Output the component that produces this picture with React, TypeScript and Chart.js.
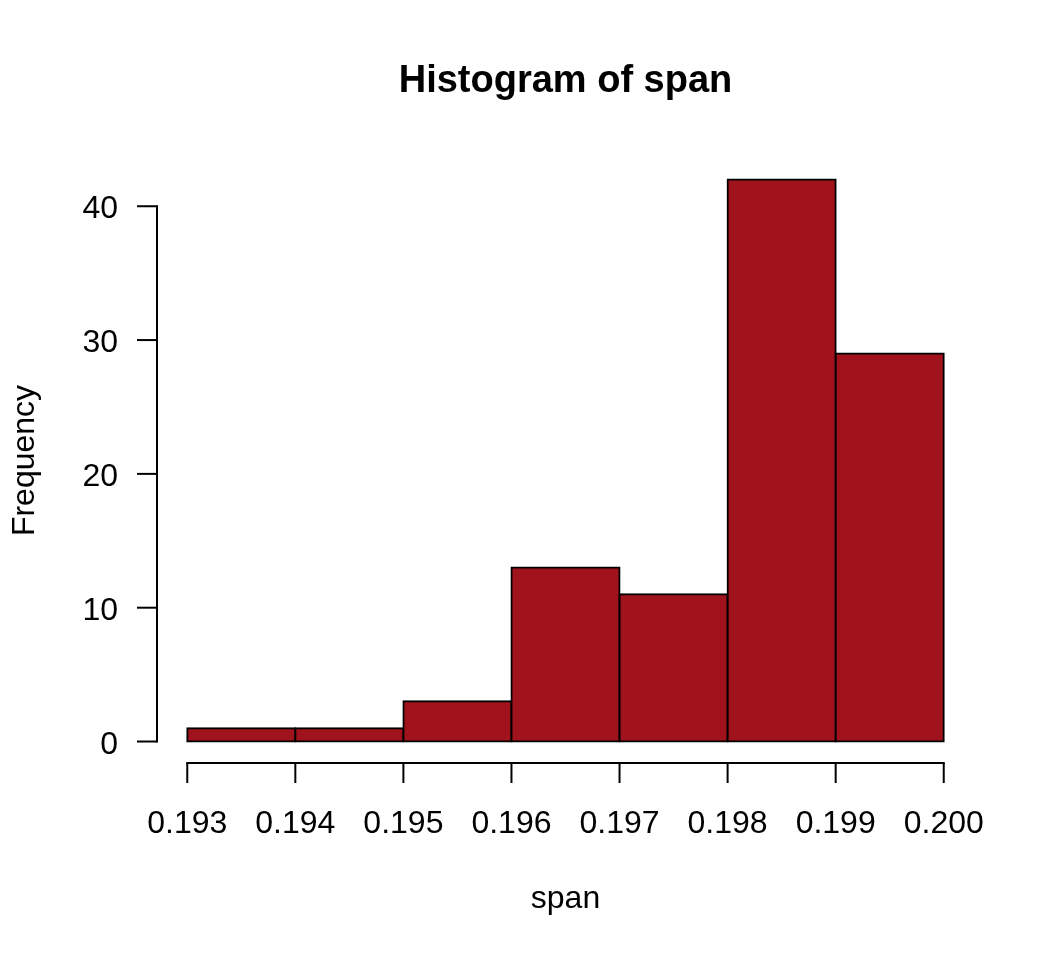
import React, { useEffect, useRef } from "react";
import { Chart, registerables } from "chart.js";

Chart.register(...registerables);

const binCenters = [0.1935, 0.1945, 0.1955, 0.1965, 0.1975, 0.1985, 0.1995];
const frequencies = [1, 1, 3, 13, 11, 42, 29];
const xTicks = [0.193, 0.194, 0.195, 0.196, 0.197, 0.198, 0.199, 0.2];
const xTickLabels = ["0.193", "0.194", "0.195", "0.196", "0.197", "0.198", "0.199", "0.200"];
const yTicks = [0, 10, 20, 30, 40];
const yTickLabels = ["0", "10", "20", "30", "40"];
const titleText = "Histogram of span";
const xTitle = "span";
const yTitle = "Frequency";

const FONT = '"Liberation Sans", Arial, Helvetica, sans-serif';

const rAxesPlugin = {
  id: "rAxes",
  afterDraw(chart: any) {
    const ctx = chart.ctx as CanvasRenderingContext2D;
    const xs = chart.scales.x;
    const ys = chart.scales.y;
    const area = chart.chartArea;
    ctx.save();
    ctx.strokeStyle = "#000";
    ctx.fillStyle = "#000";
    ctx.lineWidth = 2;
    ctx.lineCap = "butt";

    // x axis
    const axY = area.bottom - 1;
    const x0 = xs.getPixelForValue(xTicks[0]);
    const x1 = xs.getPixelForValue(xTicks[xTicks.length - 1]);
    ctx.beginPath();
    ctx.moveTo(x0 - 1, axY);
    ctx.lineTo(x1 + 1, axY);
    ctx.stroke();
    ctx.font = `32px ${FONT}`;
    ctx.textAlign = "center";
    ctx.textBaseline = "alphabetic";
    xTicks.forEach((v, i) => {
      const px = xs.getPixelForValue(v);
      ctx.beginPath();
      ctx.moveTo(px, axY);
      ctx.lineTo(px, axY + 20);
      ctx.stroke();
      ctx.fillText(xTickLabels[i], px, 833);
    });

    // y axis
    const axX = area.left;
    const yb = ys.getPixelForValue(yTicks[0]);
    const yt = ys.getPixelForValue(yTicks[yTicks.length - 1]);
    ctx.beginPath();
    ctx.moveTo(axX, yb + 1);
    ctx.lineTo(axX, yt - 1);
    ctx.stroke();
    ctx.textAlign = "right";
    yTicks.forEach((v, i) => {
      const py = ys.getPixelForValue(v);
      ctx.beginPath();
      ctx.moveTo(axX, py);
      ctx.lineTo(axX - 20, py);
      ctx.stroke();
      ctx.fillText(yTickLabels[i], 118, py + 12);
    });

    // titles
    const cx = (area.left + area.right) / 2;
    ctx.textAlign = "center";
    ctx.fillText(xTitle, cx, 908);
    ctx.save();
    ctx.translate(34, (area.top + area.bottom) / 2);
    ctx.rotate(-Math.PI / 2);
    ctx.fillText(yTitle, 0, 0);
    ctx.restore();
    ctx.font = `bold 38px ${FONT}`;
    ctx.fillText(titleText, cx, 92);
    ctx.restore();
  },
};

export default function App() {
  const ref = useRef<HTMLCanvasElement | null>(null);
  useEffect(() => {
    if (!ref.current) return;
    const chart = new Chart(ref.current, {
      type: "bar",
      data: {
        datasets: [
          {
            label: "Frequency",
            data: binCenters.map((x, i) => ({ x, y: frequencies[i] })),
            backgroundColor: "#A1131C",
            borderColor: "#000000",
            borderWidth: 2,
            borderSkipped: false,
            inflateAmount: 1,
            barPercentage: 1,
            categoryPercentage: 1,
          } as any,
        ],
      },
      options: {
        responsive: false,
        animation: false,
        devicePixelRatio: 1,
        layout: { padding: { left: 157, right: 82, top: 157, bottom: 196 } },
        plugins: { legend: { display: false }, tooltip: { enabled: false }, title: { display: false } },
        scales: {
          x: { type: "linear", min: 0.19272, max: 0.20028, display: false, offset: false },
          y: { type: "linear", min: -1.68, max: 43.68, display: false },
        },
      },
      plugins: [rAxesPlugin],
    });
    return () => chart.destroy();
  }, []);
  return (
    <div style={{ position: "absolute", left: 0, top: 0, width: 1056, height: 960, background: "#fff" }}>
      <canvas ref={ref} width={1056} height={960} />
    </div>
  );
}
